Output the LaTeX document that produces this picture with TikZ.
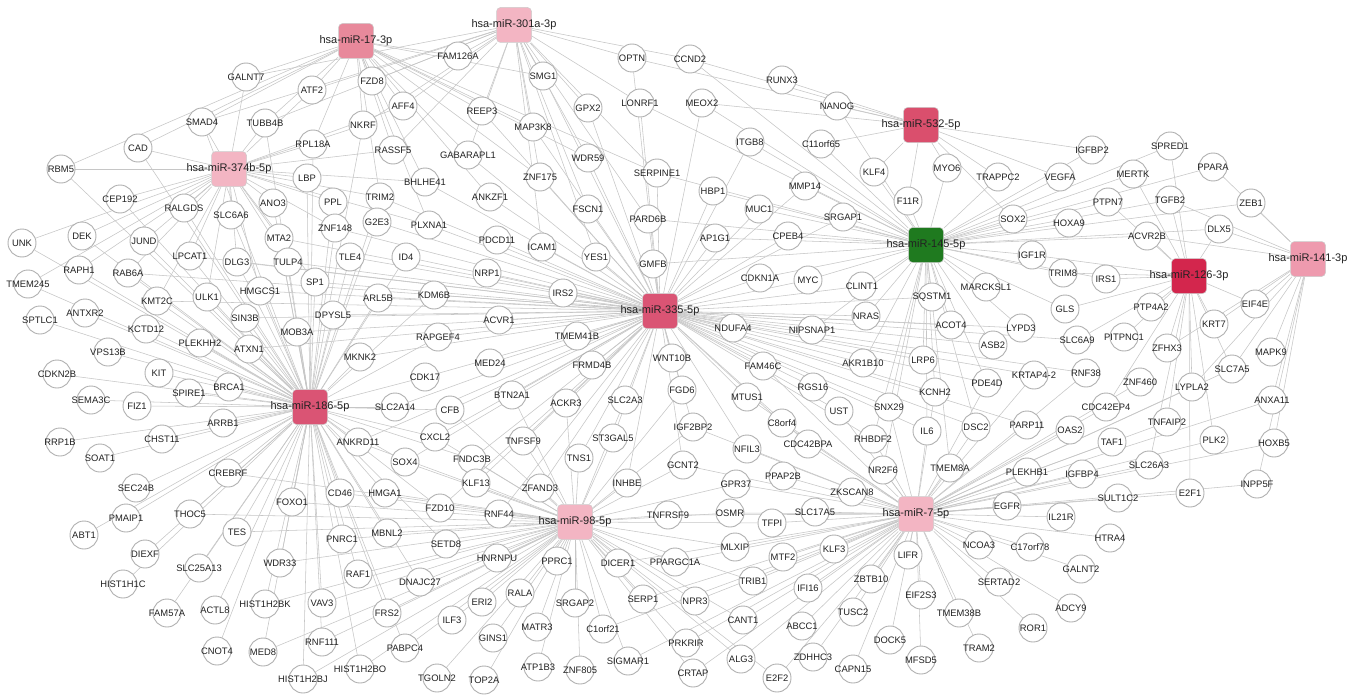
\documentclass[tikz,border=0pt]{standalone}
\usepackage{fontspec}
\setmainfont{Liberation Sans}
\usetikzlibrary{backgrounds}
\definecolor{edgec}{HTML}{C6C6C6}
\definecolor{ringc}{HTML}{B0B0B0}
\definecolor{txtc}{HTML}{222222}
\definecolor{cA}{HTML}{E8899B}
\definecolor{cB}{HTML}{F3B5C3}
\definecolor{cC}{HTML}{DA4F6D}
\definecolor{cG}{HTML}{1F7A1F}
\definecolor{cD}{HTML}{D3264D}
\definecolor{cE}{HTML}{EE9AAE}
\definecolor{cF}{HTML}{DA5474}
\tikzset{
  gene/.style={circle, draw=ringc, line width=0.9pt, fill=white, minimum size=28pt, inner sep=0pt, text=txtc, font=\fontsize{9.4}{9.4}\selectfont},
  hub/.style={rectangle, rounded corners=4pt, draw=black!20, line width=0.5pt, minimum size=35pt, inner sep=0pt, text=txtc, font=\fontsize{11}{11}\selectfont},
  edge/.style={draw=edgec, line width=0.55pt}
}
\newcommand\gn[3]{\node[gene] (#1) at (#2,#3) {\makebox[0pt]{#1}};}
\newcommand\hb[5]{\node[hub, fill=#4] (#1) at (#2,#3) {\makebox[0pt]{#5}};}
\begin{document}
\begin{tikzpicture}[x=1pt,y=-1pt]
\useasboundingbox (0,0) rectangle (1359,698);
% hubs
\hb{h17}{356}{41}{cA}{hsa-miR-17-3p}
\hb{h301}{514}{25}{cB}{hsa-miR-301a-3p}
\hb{h374}{229}{169}{cB}{hsa-miR-374b-5p}
\hb{h532}{921}{125}{cC}{hsa-miR-532-5p}
\hb{h145}{926}{245}{cG}{hsa-miR-145-5p}
\hb{h126}{1189}{276}{cD}{hsa-miR-126-3p}
\hb{h141}{1308}{259}{cE}{hsa-miR-141-3p}
\hb{h335}{660}{311}{cF}{hsa-miR-335-5p}
\hb{h186}{310}{407}{cF}{hsa-miR-186-5p}
\hb{h98}{575}{522}{cB}{hsa-miR-98-5p}
\hb{h7}{916}{514}{cB}{hsa-miR-7-5p}
% genes
\gn{GALNT7}{246}{77}
\gn{ATF2}{312}{90}
\gn{SMAD4}{202}{122}
\gn{TUBB4B}{265}{123}
\gn{CAD}{138}{148}
\gn{RPL18A}{313}{144}
\gn{RBM5}{61}{169}
\gn{LBP}{307}{178}
\gn{CEP192}{120}{199}
\gn{RALGDS}{184}{208}
\gn{SLC6A6}{231}{215}
\gn{ANO3}{273}{203}
\gn{PPL}{333}{202}
\gn{DEK}{82}{236}
\gn{JUND}{144}{241}
\gn{MTA2}{279}{238}
\gn{ZNF148}{335}{228}
\gn{UNK}{22}{243}
\gn{FAM126A}{458}{56}
\gn{OPTN}{632}{58}
\gn{CCND2}{690}{59}
\gn{SMG1}{543}{76}
\gn{FZD8}{372}{81}
\gn{AFF4}{403}{106}
\gn{REEP3}{482}{111}
\gn{GPX2}{588}{108}
\gn{LONRF1}{640}{103}
\gn{NKRF}{363}{125}
\gn{MAP3K8}{533}{127}
\gn{RASSF5}{393}{150}
\gn{GABARAPL1}{468}{155}
\gn{WDR59}{588}{158}
\gn{SERPINE1}{657}{173}
\gn{ZNF175}{540}{177}
\gn{BHLHE41}{425}{182}
\gn{TRIM2}{380}{197}
\gn{ANKZF1}{490}{197}
\gn{FSCN1}{588}{209}
\gn{PARD6B}{648}{219}
\gn{G2E3}{377}{222}
\gn{PLXNA1}{429}{225}
\gn{PDCD11}{497}{240}
\gn{RUNX3}{782}{80}
\gn{MEOX2}{702}{103}
\gn{NANOG}{837}{106}
\gn{ITGB8}{750}{142}
\gn{C11orf65}{821}{144}
\gn{KLF4}{874}{172}
\gn{MYO6}{947}{168}
\gn{TRAPPC2}{998}{177}
\gn{HBP1}{713}{191}
\gn{MMP14}{805}{186}
\gn{MUC1}{759}{209}
\gn{F11R}{908}{201}
\gn{SRGAP1}{843}{217}
\gn{SOX2}{1013}{219}
\gn{AP1G1}{715}{238}
\gn{CPEB4}{788}{236}
\gn{IGFBP2}{1092}{150}
\gn{SPRED1}{1170}{146}
\gn{PPARA}{1213}{167}
\gn{VEGFA}{1060}{177}
\gn{MERTK}{1133}{174}
\gn{PTPN7}{1108}{202}
\gn{TGFB2}{1170}{200}
\gn{ZEB1}{1251}{203}
\gn{HOXA9}{1069}{223}
\gn{DLX5}{1219}{229}
\gn{ACVR2B}{1147}{236}
\gn{LPCAT1}{190}{256}
\gn{DLG3}{237}{262}
\gn{TULP4}{288}{262}
\gn{RAPH1}{79}{270}
\gn{RAB6A}{128}{273}
\gn{TMEM245}{28}{284}
\gn{SP1}{315}{282}
\gn{HMGCS1}{260}{291}
\gn{ULK1}{207}{297}
\gn{KMT2C}{157}{301}
\gn{SPTLC1}{40}{320}
\gn{ANTXR2}{85}{313}
\gn{SIN3B}{245}{318}
\gn{DPYSL5}{333}{315}
\gn{MOB3A}{297}{332}
\gn{KCTD12}{146}{329}
\gn{PLEKHH2}{200}{343}
\gn{ATXN1}{249}{349}
\gn{VPS13B}{108}{352}
\gn{CDKN2B}{57}{374}
\gn{KIT}{159}{373}
\gn{BRCA1}{229}{387}
\gn{SPIRE1}{189}{393}
\gn{SEMA3C}{91}{400}
\gn{FIZ1}{137}{406}
\gn{ARRB1}{223}{423}
\gn{RRP1B}{60}{442}
\gn{CHST11}{162}{439}
\gn{SOAT1}{100}{458}
\gn{ANKRD11}{358}{442}
\gn{ICAM1}{542}{247}
\gn{YES1}{596}{257}
\gn{TLE4}{350}{257}
\gn{ID4}{406}{257}
\gn{GMFB}{653}{264}
\gn{NRP1}{487}{273}
\gn{IRS2}{563}{293}
\gn{ARL5B}{378}{298}
\gn{KDM6B}{434}{295}
\gn{ACVR1}{499}{320}
\gn{RAPGEF4}{438}{337}
\gn{TMEM41B}{577}{336}
\gn{MKNK2}{360}{357}
\gn{WNT10B}{672}{358}
\gn{MED24}{490}{363}
\gn{FRMD4B}{592}{365}
\gn{CDK17}{425}{377}
\gn{BTN2A1}{512}{395}
\gn{ACKR3}{566}{403}
\gn{SLC2A3}{625}{400}
\gn{FGD6}{682}{390}
\gn{SLC2A14}{395}{407}
\gn{CFB}{450}{410}
\gn{IGF2BP2}{693}{427}
\gn{CXCL2}{435}{437}
\gn{TNFSF9}{523}{441}
\gn{ST3GAL5}{613}{438}
\gn{SOX4}{405}{462}
\gn{FNDC3B}{472}{459}
\gn{TNS1}{579}{458}
\gn{GCNT2}{683}{465}
\gn{CDKN1A}{760}{278}
\gn{MYC}{808}{280}
\gn{CLINT1}{862}{286}
\gn{SQSTM1}{932}{297}
\gn{MARCKSL1}{986}{287}
\gn{NRAS}{866}{316}
\gn{NDUFA4}{733}{328}
\gn{NIPSNAP1}{812}{330}
\gn{ACOT4}{951}{325}
\gn{LYPD3}{1021}{328}
\gn{ASB2}{993}{345}
\gn{AKR1B10}{863}{363}
\gn{LRP6}{923}{360}
\gn{FAM46C}{763}{366}
\gn{KRTAP4-2}{1034}{375}
\gn{PDE4D}{987}{383}
\gn{RGS16}{813}{387}
\gn{KCNH2}{935}{392}
\gn{MTUS1}{747}{397}
\gn{UST}{839}{411}
\gn{SNX29}{889}{407}
\gn{C8orf4}{782}{423}
\gn{IL6}{927}{431}
\gn{DSC2}{976}{427}
\gn{PARP11}{1027}{425}
\gn{RHBDF2}{873}{439}
\gn{CDC42BPA}{808}{444}
\gn{NFIL3}{747}{449}
\gn{NR2F6}{883}{470}
\gn{TMEM8A}{950}{468}
\gn{IGF1R}{1032}{255}
\gn{TRIM8}{1063}{273}
\gn{IRS1}{1106}{279}
\gn{GLS}{1065}{309}
\gn{PTP4A2}{1151}{307}
\gn{EIF4E}{1255}{304}
\gn{KRT7}{1214}{324}
\gn{SLC6A9}{1077}{340}
\gn{PITPNC1}{1124}{337}
\gn{ZFHX3}{1167}{348}
\gn{MAPK9}{1271}{352}
\gn{RNF38}{1086}{373}
\gn{SLC7A5}{1232}{369}
\gn{ZNF460}{1140}{382}
\gn{LYPLA2}{1192}{387}
\gn{ANXA11}{1272}{400}
\gn{CDC42EP4}{1106}{407}
\gn{OAS2}{1070}{430}
\gn{TNFAIP2}{1167}{422}
\gn{PLK2}{1214}{440}
\gn{HOXB5}{1274}{443}
\gn{TAF1}{1112}{442}
\gn{SLC26A3}{1149}{465}
\gn{PLEKHB1}{1027}{472}
\gn{CREBRF}{228}{473}
\gn{SEC24B}{136}{488}
\gn{FOXO1}{292}{502}
\gn{CD46}{340}{493}
\gn{PMAIP1}{126}{518}
\gn{THOC5}{190}{514}
\gn{ABT1}{84}{535}
\gn{TES}{237}{532}
\gn{PNRC1}{342}{539}
\gn{DIEXF}{145}{554}
\gn{SLC25A13}{199}{568}
\gn{WDR33}{280}{563}
\gn{HIST1H1C}{123}{584}
\gn{FAM57A}{167}{613}
\gn{ACTL8}{215}{610}
\gn{HIST1H2BK}{265}{604}
\gn{VAV3}{322}{603}
\gn{CNOT4}{217}{651}
\gn{MED8}{263}{652}
\gn{RNF111}{322}{642}
\gn{HIST1H2BJ}{303}{679}
\gn{HIST1H2BO}{360}{669}
\gn{KLF13}{476}{483}
\gn{ZFAND3}{540}{488}
\gn{INHBE}{627}{483}
\gn{HMGA1}{385}{493}
\gn{FZD10}{440}{508}
\gn{RNF44}{499}{514}
\gn{TNFRSF9}{668}{515}
\gn{MBNL2}{387}{533}
\gn{SETD8}{446}{544}
\gn{HNRNPU}{497}{558}
\gn{PPRC1}{557}{561}
\gn{DICER1}{618}{563}
\gn{PPARGC1A}{675}{562}
\gn{RAF1}{358}{574}
\gn{DNAJC27}{420}{582}
\gn{RALA}{520}{593}
\gn{ERI2}{482}{602}
\gn{SRGAP2}{575}{603}
\gn{SERP1}{643}{599}
\gn{NPR3}{695}{601}
\gn{FRS2}{387}{613}
\gn{ILF3}{452}{620}
\gn{MATR3}{537}{627}
\gn{C1orf21}{603}{629}
\gn{GINS1}{493}{638}
\gn{PRKRIR}{686}{643}
\gn{PABPC4}{405}{648}
\gn{ATP1B3}{538}{667}
\gn{ZNF805}{580}{670}
\gn{SIGMAR1}{628}{661}
\gn{TGOLN2}{437}{678}
\gn{TOP2A}{484}{680}
\gn{CRTAP}{693}{673}
\gn{PPAP2B}{783}{476}
\gn{GPR37}{736}{484}
\gn{ZKSCAN8}{852}{492}
\gn{EGFR}{1007}{506}
\gn{OSMR}{730}{513}
\gn{SLC17A5}{815}{512}
\gn{TFPI}{772}{523}
\gn{MLXIP}{735}{547}
\gn{KLF3}{834}{549}
\gn{MTF2}{783}{557}
\gn{LIFR}{908}{555}
\gn{NCOA3}{979}{545}
\gn{C17orf78}{1030}{547}
\gn{TRIB1}{753}{581}
\gn{ZBTB10}{871}{579}
\gn{IFI16}{808}{588}
\gn{SERTAD2}{999}{582}
\gn{EIF2S3}{921}{595}
\gn{TUSC2}{853}{612}
\gn{TMEM38B}{959}{613}
\gn{CANT1}{743}{620}
\gn{ABCC1}{802}{626}
\gn{DOCK5}{890}{640}
\gn{TRAM2}{979}{648}
\gn{ROR1}{1033}{628}
\gn{ALG3}{741}{659}
\gn{ZDHHC3}{813}{657}
\gn{MFSD5}{921}{660}
\gn{CAPN15}{853}{669}
\gn{E2F2}{777}{678}
\gn{IGFBP4}{1082}{474}
\gn{INPP5F}{1257}{484}
\gn{E2F1}{1190}{493}
\gn{SULT1C2}{1118}{498}
\gn{IL21R}{1061}{517}
\gn{HTRA4}{1110}{538}
\gn{GALNT2}{1081}{569}
\gn{ADCY9}{1071}{608}
% edges
\begin{pgfonlayer}{background}
\fill[white] (0,0) rectangle (1359,698);
\foreach \g in {GALNT7,ATF2,SMAD4,CAD,FZD8,AFF4,NKRF,FAM126A,RASSF5,REEP3,GABARAPL1,MAP3K8,RPL18A,TUBB4B,BHLHE41,ZNF175,ANKZF1,SERPINE1,PLXNA1,TRIM2,RBM5,WDR59,SMG1}
  \draw[edge] (h17) -- (\g);
\foreach \g in {FAM126A,SMG1,OPTN,CCND2,AFF4,FZD8,ATF2,MAP3K8,GPX2,LONRF1,WDR59,SERPINE1,ZNF175,RASSF5,GABARAPL1,NKRF,SMAD4,REEP3,FSCN1,ICAM1,YES1,GALNT7,TUBB4B,PARD6B}
  \draw[edge] (h301) -- (\g);
\foreach \g in {NANOG,RUNX3,CCND2,OPTN,MYO6,TRAPPC2,KLF4,C11orf65,F11R,SOX2,IGFBP2,VEGFA,MEOX2}
  \draw[edge] (h532) -- (\g);
\foreach \g in {KLF4,F11R,MYO6,SRGAP1,MMP14,C11orf65,ITGB8,MUC1,HBP1,CPEB4,AP1G1,CDKN1A,MYC,CLINT1,NRAS,SQSTM1,MARCKSL1,ACOT4,SOX2,TRAPPC2,VEGFA,IGFBP2,HOXA9,PTPN7,MERTK,SPRED1,TGFB2,ACVR2B,IGF1R,TRIM8,IRS1,GLS,LYPD3,ASB2,LRP6,PDE4D,KCNH2,IL6,DSC2,SNX29,AKR1B10,NIPSNAP1,MEOX2,NANOG,TMEM8A,NR2F6,RHBDF2,PPARA,DLX5,ZEB1,LONRF1,SERPINE1,PARD6B,GMFB,CCND2}
  \draw[edge] (h145) -- (\g);
\foreach \g in {IRS1,TRIM8,IGF1R,ACVR2B,PTP4A2,KRT7,EIF4E,SLC7A5,LYPLA2,PLK2,E2F1,DLX5,TGFB2,SPRED1,PITPNC1,SLC26A3,ZFHX3,TNFAIP2,CDC42EP4,GLS,MERTK,PTPN7,SLC6A9}
  \draw[edge] (h126) -- (\g);
\foreach \g in {ZEB1,DLX5,EIF4E,MAPK9,ANXA11,HOXB5,INPP5F,KRT7,SLC7A5,ZFHX3,PPARA,ACVR2B,LYPLA2,TGFB2}
  \draw[edge] (h141) -- (\g);
\foreach \g in {PDCD11,ICAM1,YES1,GMFB,NRP1,IRS2,ACVR1,TMEM41B,FRMD4B,WNT10B,MED24,RAPGEF4,KDM6B,ID4,ARL5B,TLE4,MKNK2,CDK17,BTN2A1,ACKR3,SLC2A3,FGD6,IGF2BP2,ST3GAL5,TNS1,TNFSF9,CFB,SLC2A14,CXCL2,ANKZF1,PLXNA1,FSCN1,PARD6B,SERPINE1,HBP1,AP1G1,MUC1,CPEB4,CDKN1A,MYC,CLINT1,NRAS,NDUFA4,NIPSNAP1,AKR1B10,FAM46C,MTUS1,RGS16,C8orf4,UST,SNX29,LRP6,KCNH2,CDC42BPA,NFIL3,RHBDF2,GCNT2,INHBE,ZFAND3,DPYSL5,MOB3A,SP1,TULP4,ZNF148,G2E3,TRIM2,BHLHE41,GABARAPL1,ZNF175,WDR59,GPX2,MAP3K8,REEP3,ITGB8,MMP14,SRGAP1,SQSTM1,ACOT4,LYPD3,ASB2,PDE4D,RNF38,KRTAP4-2,SLC6A9,IL6,DSC2,PARP11,MTA2,HMGCS1,ATXN1,SIN3B,DLG3,LPCAT1,KMT2C,RAB6A,ANKRD11,SOX4,FNDC3B,KLF13,RNF44,FZD10,MEOX2,SMG1,OPTN,LONRF1}
  \draw[edge] (h335) -- (\g);
\foreach \g in {CEP192,RALGDS,SLC6A6,ANO3,LBP,PPL,DEK,JUND,UNK,MTA2,TULP4,LPCAT1,DLG3,RAPH1,RAB6A,TMEM245,SP1,HMGCS1,ULK1,KMT2C,SPTLC1,ANTXR2,SIN3B,DPYSL5,MOB3A,KCTD12,PLEKHH2,ATXN1,VPS13B,CDKN2B,KIT,BRCA1,SPIRE1,SEMA3C,FIZ1,ARRB1,RRP1B,CHST11,SOAT1,CREBRF,SEC24B,FOXO1,PMAIP1,THOC5,ABT1,TES,DIEXF,SLC25A13,WDR33,HIST1H1C,FAM57A,ACTL8,HIST1H2BK,VAV3,CNOT4,MED8,RNF111,HIST1H2BJ,HIST1H2BO,PNRC1,CD46,ANKRD11,SLC2A14,MKNK2,CDK17,SOX4,CXCL2,HMGA1,MBNL2,RAF1,ARL5B,TLE4,ZNF148,ID4,KDM6B,RAPGEF4,CFB,FNDC3B,RPL18A,TUBB4B,RBM5,CAD,SMAD4,G2E3,TRIM2,NKRF,FZD10,SETD8,DNAJC27,FRS2,PABPC4}
  \draw[edge] (h186) -- (\g);
\foreach \g in {GALNT7,SMAD4,CAD,RBM5,CEP192,RALGDS,SLC6A6,ANO3,LBP,PPL,RPL18A,TUBB4B,ATF2,DEK,JUND,UNK,MTA2,LPCAT1,DLG3,ZNF148,TULP4,SP1,RAPH1,RAB6A,KMT2C,ULK1,HMGCS1,NKRF,RASSF5,AFF4,BHLHE41,TRIM2,PLXNA1,TMEM245}
  \draw[edge] (h374) -- (\g);
\foreach \g in {ZFAND3,KLF13,RNF44,FZD10,HMGA1,SOX4,FNDC3B,TNS1,INHBE,TNFRSF9,PPRC1,HNRNPU,DICER1,PPARGC1A,SETD8,MBNL2,RAF1,DNAJC27,RALA,ERI2,SRGAP2,SERP1,NPR3,FRS2,ILF3,MATR3,C1orf21,GINS1,PRKRIR,PABPC4,ATP1B3,ZNF805,SIGMAR1,HIST1H2BO,TGOLN2,TOP2A,CRTAP,GCNT2,TNFSF9,ST3GAL5,CXCL2,CFB,BTN2A1,ACKR3,SLC2A3,IGF2BP2,FGD6,CD46,PNRC1,FOXO1,ANKRD11,GPR37,OSMR,MLXIP,TFPI,CANT1,TRIB1,ALG3,E2F2,HIST1H2BJ,RNF111,VAV3,WDR33,HIST1H2BK,MED8,TES,CREBRF,THOC5}
  \draw[edge] (h98) -- (\g);
\foreach \g in {NR2F6,TMEM8A,ZKSCAN8,SLC17A5,PPAP2B,GPR37,OSMR,TFPI,MLXIP,KLF3,MTF2,LIFR,NCOA3,EGFR,PLEKHB1,IGFBP4,SULT1C2,IL21R,HTRA4,C17orf78,GALNT2,SERTAD2,ADCY9,TMEM38B,ROR1,TRAM2,MFSD5,DOCK5,CAPN15,EIF2S3,ZBTB10,TUSC2,ZDHHC3,E2F2,ABCC1,IFI16,ALG3,CANT1,TRIB1,NPR3,CRTAP,PRKRIR,PPARGC1A,DICER1,SERP1,SIGMAR1,C1orf21,GCNT2,IGF2BP2,NFIL3,CDC42BPA,RHBDF2,C8orf4,UST,IL6,DSC2,PARP11,OAS2,TAF1,CDC42EP4,SLC26A3,E2F1,INPP5F,TNFAIP2,KRTAP4-2,RNF38,PDE4D,KCNH2,SNX29,ZNF460,LYPLA2,HOXB5,ANXA11,PLK2,FAM46C,MTUS1,TNFRSF9,SLC7A5}
  \draw[edge] (h7) -- (\g);
\end{pgfonlayer}
\end{tikzpicture}
\end{document}
